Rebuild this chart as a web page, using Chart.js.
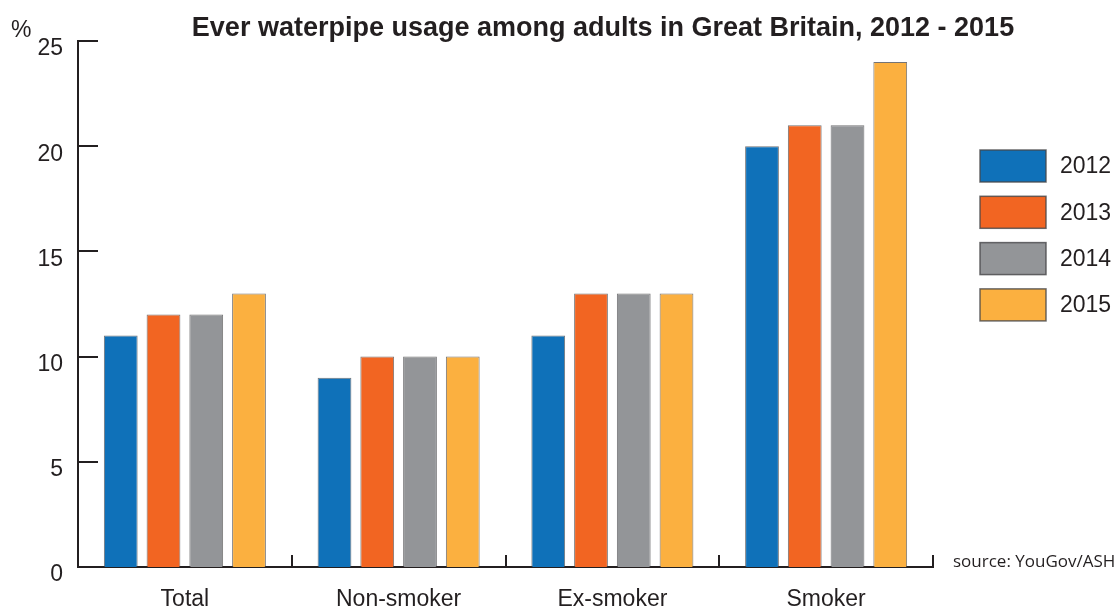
<!DOCTYPE html>
<html>
<head>
<meta charset="utf-8">
<script src="https://cdn.jsdelivr.net/npm/chart.js@4"></script>
<style>
  html, body { margin: 0; padding: 0; background: #fff; }
  #wrap { width: 1120px; height: 607px; }
</style>
</head>
<body>
<div id="wrap"><canvas id="graphId" width="1120" height="607"></canvas></div>
<script>
////////// data
var categories = ['Total', 'Non-smoker', 'Ex-smoker', 'Smoker'];
var years = ['2012', '2013', '2014', '2015'];
var values2012 = [11, 9, 11, 20];
var values2013 = [12, 10, 13, 21];
var values2014 = [12, 10, 13, 21];
var values2015 = [13, 10, 13, 24];
var yTicks = [0, 5, 10, 15, 20, 25];
var colors = ['#0f71b9', '#f26522', '#939598', '#fbb040'];
var title = 'Ever waterpipe usage among adults in Great Britain, 2012 - 2015';
var source = 'source: YouGov/ASH';

var FONT = '"Liberation Sans", Arial, sans-serif';
var INK = '#231f20';

var allValues = [values2012, values2013, values2014, values2015];
var DataArray = [];
for (var i = 0; i < years.length; i++) {
  DataArray.push({
    label: years[i],
    data: allValues[i],
    backgroundColor: colors[i],
    borderColor: 'rgba(70,70,72,0.75)',
    borderWidth: 1,
    categoryPercentage: 0.80,
    barPercentage: 0.79
  });
}

// inner ticks, title, legend and source drawn on top
var extras = {
  id: 'extras',
  afterDraw: function (chart) {
    var ctx = chart.ctx;
    var x = chart.scales.x, y = chart.scales.y;
    var area = chart.chartArea;
    ctx.save();
    ctx.strokeStyle = INK;
    ctx.lineWidth = 2;
    // y ticks pointing into the chart
    for (var k = 0; k < yTicks.length; k++) {
      if (yTicks[k] === 0) continue;
      var py = Math.round(y.getPixelForValue(yTicks[k]));
      ctx.beginPath();
      ctx.moveTo(area.left, py);
      ctx.lineTo(area.left + 20, py);
      ctx.stroke();
    }
    // x ticks between categories
    for (var c = 0; c < categories.length; c++) {
      var px = Math.round(x.getPixelForValue(c + 0.5));
      ctx.beginPath();
      ctx.moveTo(px, area.bottom);
      ctx.lineTo(px, area.bottom - 12);
      ctx.stroke();
    }
    // title
    ctx.fillStyle = INK;
    ctx.font = 'bold 27px ' + FONT;
    ctx.textAlign = 'center';
    ctx.textBaseline = 'alphabetic';
    ctx.fillText(title, 603, 36);
    // unit
    ctx.font = '23px ' + FONT;
    ctx.textAlign = 'left';
    ctx.fillText('%', 11, 37);
    // source
    ctx.font = '17px "Open Sans", sans-serif';
    ctx.fillText(source, 953, 567);
    // legend
    ctx.font = '23px ' + FONT;
    ctx.textBaseline = 'middle';
    for (var d = 0; d < chart.data.datasets.length; d++) {
      var ds = chart.data.datasets[d];
      var by = 150 + d * 46.3;
      ctx.fillStyle = ds.backgroundColor;
      ctx.fillRect(980, by, 66, 32);
      ctx.strokeStyle = 'rgba(70,70,72,0.8)';
      ctx.lineWidth = 1.5;
      ctx.strokeRect(980, by, 66, 32);
      ctx.fillStyle = INK;
      ctx.fillText(ds.label, 1060, by + 17);
    }
    ctx.restore();
  }
};

var ctx = document.getElementById('graphId').getContext('2d');
var myChart = new Chart(ctx, {
  type: 'bar',
  data: {
    labels: categories,
    datasets: DataArray
  },
  options: {
    responsive: false,
    animation: false,
    layout: { padding: { top: 41, right: 187, left: 0, bottom: 0 } },
    plugins: {
      legend: { display: false },
      title: { display: false },
      tooltip: { enabled: false }
    },
    scales: {
      x: {
        grid: { display: false },
        border: { display: true, color: INK, width: 2 },
        ticks: { color: INK, font: { family: FONT, size: 23 }, padding: 11, maxRotation: 0 },
        afterFit: function (scale) { scale.height = 40; }
      },
      y: {
        min: 0,
        max: 25,
        grid: { display: false },
        border: { display: true, color: INK, width: 2 },
        afterBuildTicks: function (scale) {
          scale.ticks = yTicks.map(function (v) { return { value: v }; });
        },
        ticks: { color: INK, font: { family: FONT, size: 23 }, padding: 7, labelOffset: 8 },
        afterFit: function (scale) { scale.width = 78; }
      }
    }
  },
  plugins: [extras]
});
</script>
</body>
</html>
